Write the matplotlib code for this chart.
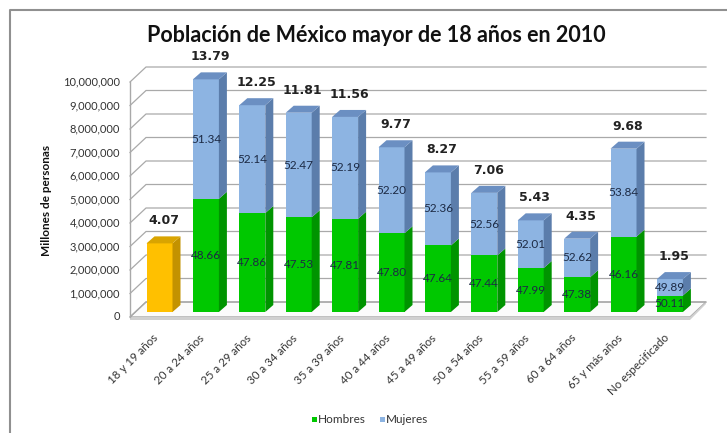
import matplotlib
matplotlib.use("Agg")
import matplotlib.pyplot as plt
from matplotlib.patches import Polygon, Rectangle
from matplotlib.lines import Line2D

# ---- data -------------------------------------------------------------
categories = ["18 y 19 años", "20 a 24 años", "25 a 29 años", "30 a 34 años",
              "35 a 39 años", "40 a 44 años", "45 a 49 años", "50 a 54 años",
              "55 a 59 años", "60 a 64 años", "65 y más años", "No especificado"]
# population of each group (persons)
poblacion = [2920000, 9900000, 8800000, 8480000, 8300000, 7010000,
             5940000, 5070000, 3900000, 3120000, 6950000, 1400000]
# share of the 18+ population (%)
pct_total = [4.07, 13.79, 12.25, 11.81, 11.56, 9.77, 8.27, 7.06, 5.43, 4.35, 9.68, 1.95]
# share of men / women inside each group (%); the first group is not split
pct_hombres = [None, 48.66, 47.86, 47.53, 47.81, 47.80, 47.64, 47.44, 47.99, 47.38, 46.16, 50.11]
pct_mujeres = [None, 51.34, 52.14, 52.47, 52.19, 52.20, 52.36, 52.56, 52.01, 52.62, 53.84, 49.89]
yticks = list(range(0, 10000001, 1000000))

# ---- geometry (pseudo 3-D) -------------------------------------------
W, H = 727, 433
PX_X = 46.4            # pixels per category
PX_Y = 23.5e-6         # pixels per person
X0, Y0 = 159.5, 312.0  # pixel position of bar 0 centre / value 0

fig = plt.figure(figsize=(W / 100, H / 100), dpi=100)
ax = fig.add_axes([0, 0, 1, 1])
ax.set_xlim(-X0 / PX_X, (W - X0) / PX_X)
ax.set_ylim(-(H - Y0) / PX_Y, Y0 / PX_Y)
ax.axis("off")

def px(dx):   # horizontal pixels -> data
    return dx / PX_X

def py(dy):   # vertical pixels -> data
    return dy / PX_Y

wall_dx, wall_dy = px(16), py(15)
front_off = py(-5)           # front edge of floor / left wall
back_off = front_off + wall_dy
x_left_front = px(130 - X0)
x_left_back = x_left_front + wall_dx
x_right_front = px(690 - X0)
x_right_back = x_right_front + wall_dx
grid_c = "#a9a9a9"

# floor
ax.add_patch(Polygon([(x_left_front, front_off), (x_right_front, front_off),
                      (x_right_back, back_off), (x_left_back, back_off)],
                     closed=True, facecolor="#fbfbfb", edgecolor=grid_c, lw=1.0, zorder=1))
ax.add_patch(Polygon([(x_left_front, front_off), (x_right_front, front_off),
                      (x_right_back, back_off), (x_right_back, back_off - py(2)),
                      (x_right_front, front_off - py(3)), (x_left_front, front_off - py(3))],
                     closed=True, facecolor="#d0d0d0", edgecolor="none", zorder=1))

# walls and gridlines
ax.add_line(Line2D([x_left_front, x_left_front], [front_off, yticks[-1] + front_off],
                   color=grid_c, lw=1.0, zorder=1))
for v in yticks:
    ax.add_line(Line2D([x_left_front, x_left_back, x_right_back],
                       [v + front_off, v + back_off, v + back_off],
                       color=grid_c, lw=0.9, zorder=1))
    ax.text(x_left_front - px(10), v + front_off, f"{v:,}", ha="right", va="center",
            fontsize=8, family="Lato", color="#333333")

# bars
bw = px(26)
bdx, bdy = px(8), py(7)
green, green_s = "#00c800", "#009400"
blue, blue_s, blue_t = "#8db4e2", "#5b7dab", "#6b8fc2"
yellow, yellow_s, yellow_t = "#ffc000", "#c39200", "#d9a400"

def box(x1, y0, y1, fc, sc, tc=None, z=3):
    ax.add_patch(Rectangle((x1, y0), bw, y1 - y0, facecolor=fc, edgecolor="none", zorder=z))
    ax.add_patch(Polygon([(x1 + bw, y0), (x1 + bw + bdx, y0 + bdy),
                          (x1 + bw + bdx, y1 + bdy), (x1 + bw, y1)],
                         closed=True, facecolor=sc, edgecolor="none", zorder=z))
    if tc is not None:
        ax.add_patch(Polygon([(x1, y1), (x1 + bw, y1), (x1 + bw + bdx, y1 + bdy),
                              (x1 + bdx, y1 + bdy)],
                             closed=True, facecolor=tc, edgecolor="none", zorder=z))

lab_c = "#1c2a44"
for i, (tot, pt, ph, pm) in enumerate(zip(poblacion, pct_total, pct_hombres, pct_mujeres)):
    x1 = i - bw / 2
    if ph is None:
        box(x1, 0, tot, yellow, yellow_s, yellow_t)
    else:
        g = tot * ph / 100
        box(x1, 0, g, green, green_s)
        box(x1, g, tot, blue, blue_s, blue_t)
        ax.text(i, g / 2, f"{ph:.2f}", ha="center", va="center", fontsize=8.5,
                family="Lato", color=lab_c, zorder=5)
        ax.text(i, (g + tot) / 2, f"{pm:.2f}", ha="center", va="center", fontsize=8.5,
                family="Lato", color=lab_c, zorder=5)
    ax.text(i + bdx / 2, tot + bdy + py(9), f"{pt:.2f}", ha="center", va="bottom",
            fontsize=9, fontweight="bold", family="DejaVu Sans", color="#222222", zorder=5)
    ax.text(i - px(3), py(-24), categories[i], ha="right", va="center", rotation=45,
            rotation_mode="anchor", fontsize=8.3, family="Lato", color="#333333")

# titles
fig.text(376 / W, 1 - 35 / H, "Población de México mayor de 18 años en 2010",
         ha="center", va="center", fontsize=15.5, fontweight="bold", family="Lato",
         color="#111111")
fig.text(47 / W, 1 - 200 / H, "Millones de personas", ha="center", va="center",
         rotation=90, fontsize=8.5, fontweight="bold", family="Lato", color="#111111")

# legend
for xs, col, name in [(312, green, "Hombres"), (380, blue, "Mujeres")]:
    fig.patches.append(Rectangle((xs / W, 1 - 422 / H), 5 / W, 5 / H, facecolor=col,
                                 edgecolor="none", transform=fig.transFigure))
    fig.text((xs + 6) / W, 1 - 419.5 / H, name, ha="left", va="center", fontsize=8.5,
             family="Lato", color="#333333")

# outer frame
fig.lines.append(Line2D([10 / W, 10 / W, 1], [0, 1 - 10 / H, 1 - 10 / H],
                        transform=fig.transFigure, color="#909090", lw=1.5))

fig.savefig("out.png", dpi=100)
